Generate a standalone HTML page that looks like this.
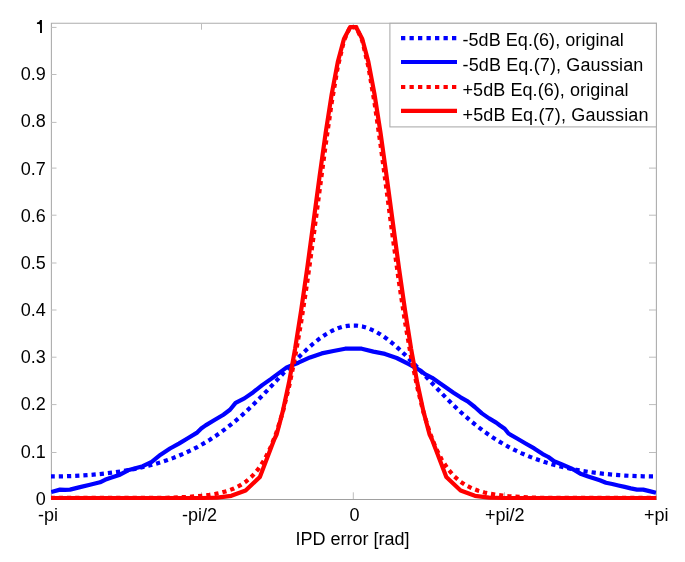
<!DOCTYPE html>
<html><head><meta charset="utf-8"><title>IPD error distribution</title>
<style>html,body{margin:0;padding:0;background:#fff;}svg{display:block;}text{font-family:"Liberation Sans",sans-serif;fill:#000;}.t{filter:grayscale(1);}</style>
</head><body>
<svg width="685" height="562" viewBox="0 0 685 562">
<rect x="0" y="0" width="685" height="562" fill="#fff"/>
<path d="M51.4 499.5 V23.3 H656.4 V499.5" fill="none" stroke="#adadad" stroke-width="1.1"/>
<path d="M51 499.5 H656.9" fill="none" stroke="#a0a0a0" stroke-width="1.1"/>
<line x1="51" y1="452.5" x2="56.5" y2="452.5" stroke="#bdbdbd" stroke-width="1"/>
<line x1="649" y1="452.5" x2="656" y2="452.5" stroke="#bdbdbd" stroke-width="1"/>
<line x1="51" y1="404.6" x2="56.5" y2="404.6" stroke="#bdbdbd" stroke-width="1"/>
<line x1="649" y1="404.6" x2="656" y2="404.6" stroke="#bdbdbd" stroke-width="1"/>
<line x1="51" y1="357.2" x2="56.5" y2="357.2" stroke="#bdbdbd" stroke-width="1"/>
<line x1="649" y1="357.2" x2="656" y2="357.2" stroke="#bdbdbd" stroke-width="1"/>
<line x1="51" y1="310.0" x2="56.5" y2="310.0" stroke="#bdbdbd" stroke-width="1"/>
<line x1="649" y1="310.0" x2="656" y2="310.0" stroke="#bdbdbd" stroke-width="1"/>
<line x1="51" y1="263.0" x2="56.5" y2="263.0" stroke="#bdbdbd" stroke-width="1"/>
<line x1="649" y1="263.0" x2="656" y2="263.0" stroke="#bdbdbd" stroke-width="1"/>
<line x1="51" y1="215.2" x2="56.5" y2="215.2" stroke="#bdbdbd" stroke-width="1"/>
<line x1="649" y1="215.2" x2="656" y2="215.2" stroke="#bdbdbd" stroke-width="1"/>
<line x1="51" y1="168.1" x2="56.5" y2="168.1" stroke="#bdbdbd" stroke-width="1"/>
<line x1="649" y1="168.1" x2="656" y2="168.1" stroke="#bdbdbd" stroke-width="1"/>
<line x1="51" y1="122.4" x2="56.5" y2="122.4" stroke="#bdbdbd" stroke-width="1"/>
<line x1="649" y1="122.4" x2="656" y2="122.4" stroke="#bdbdbd" stroke-width="1"/>
<line x1="51" y1="74.5" x2="56.5" y2="74.5" stroke="#bdbdbd" stroke-width="1"/>
<line x1="649" y1="74.5" x2="656" y2="74.5" stroke="#bdbdbd" stroke-width="1"/>
<line x1="51" y1="27.4" x2="56.5" y2="27.4" stroke="#bdbdbd" stroke-width="1"/>
<line x1="649" y1="27.4" x2="656" y2="27.4" stroke="#bdbdbd" stroke-width="1"/>
<path d="M40.0 20.1 L41.95 20.1 L41.95 32.9 L40.05 32.9 L40.05 24.6 C39.4 23.95 38.3 23.9 36.95 23.9 L36.95 22.45 C38.7 22.35 39.7 21.7 40.0 20.1 Z" fill="#000"/>
<line x1="201.5" y1="499" x2="201.5" y2="492.3" stroke="#bdbdbd" stroke-width="1"/>
<line x1="201.5" y1="23.5" x2="201.5" y2="29.7" stroke="#bdbdbd" stroke-width="1"/>
<line x1="353.3" y1="499" x2="353.3" y2="492.3" stroke="#bdbdbd" stroke-width="1"/>
<line x1="353.3" y1="23.5" x2="353.3" y2="29.7" stroke="#bdbdbd" stroke-width="1"/>
<line x1="504.5" y1="499" x2="504.5" y2="492.3" stroke="#bdbdbd" stroke-width="1"/>
<line x1="504.5" y1="23.5" x2="504.5" y2="29.7" stroke="#bdbdbd" stroke-width="1"/>
<defs><clipPath id="ax"><rect x="51" y="0" width="605.5" height="562"/></clipPath></defs><g clip-path="url(#ax)">
<polyline points="50.60,476.44 56.71,476.40 62.82,476.30 68.93,476.12 75.04,475.87 81.16,475.55 87.27,475.15 93.38,474.66 99.49,474.09 105.60,473.44 111.71,472.69 117.82,471.83 123.93,470.87 130.04,469.79 136.16,468.59 142.27,467.25 148.38,465.76 154.49,464.12 160.60,462.31 166.71,460.31 172.82,458.12 178.93,455.71 185.04,453.08 191.16,450.21 197.27,447.08 203.38,443.67 209.49,439.99 215.60,436.00 221.71,431.71 227.82,427.10 233.93,422.19 240.04,416.97 246.16,411.45 252.27,405.65 258.38,399.60 264.49,393.34 270.60,386.92 276.71,380.39 282.82,373.82 288.93,367.30 295.04,360.91 301.16,354.76 307.27,348.93 313.38,343.54 319.49,338.69 325.60,334.47 331.71,330.98 337.82,328.28 343.93,326.45 350.04,325.53 356.16,325.53 362.27,326.45 368.38,328.28 374.49,330.98 380.60,334.47 386.71,338.69 392.82,343.54 398.93,348.93 405.04,354.76 411.16,360.91 417.27,367.30 423.38,373.82 429.49,380.39 435.60,386.92 441.71,393.34 447.82,399.60 453.93,405.65 460.04,411.45 466.16,416.97 472.27,422.19 478.38,427.10 484.49,431.71 490.60,436.00 496.71,439.99 502.82,443.67 508.93,447.08 515.04,450.21 521.16,453.08 527.27,455.71 533.38,458.12 539.49,460.31 545.60,462.31 551.71,464.12 557.82,465.76 563.93,467.25 570.04,468.59 576.16,469.79 582.27,470.87 588.38,471.83 594.49,472.69 600.60,473.44 606.71,474.09 612.82,474.66 618.93,475.15 625.04,475.55 631.16,475.87 637.27,476.12 643.38,476.30 649.49,476.40 655.60,476.44" fill="none" stroke="#0000ff" stroke-width="4.2" stroke-dasharray="4.2 4" stroke-linejoin="round"/>
<polyline points="51.2,492.0 60.0,489.6 65.0,489.8 70.0,489.6 80.0,487.1 90.0,484.8 100.0,482.3 105.0,479.8 110.0,478.0 120.0,474.7 128.0,470.3 142.8,466.2 151.7,461.8 160.6,454.7 170.0,448.5 178.9,443.6 187.8,438.3 196.7,432.9 201.2,428.5 205.6,425.4 214.5,420.0 223.4,414.7 230.0,409.8 235.6,402.9 244.4,398.4 253.3,392.2 262.2,385.1 271.1,378.9 278.2,373.6 286.7,367.4 298.4,362.7 310.0,357.4 321.7,353.4 333.4,351.0 345.1,348.7 361.7,348.7 373.4,351.6 385.0,353.9 396.7,358.0 408.4,363.9 420.1,370.3 425.0,374.2 432.1,377.8 439.2,382.8 446.4,387.8 453.5,392.7 460.6,397.3 467.7,401.3 474.8,407.0 481.9,413.4 489.1,418.4 496.2,422.6 500.0,425.5 504.7,428.8 508.5,433.5 517.1,438.5 525.6,443.5 534.2,448.4 542.7,454.1 548.4,457.0 554.1,461.2 562.6,464.8 571.2,468.4 575.0,470.4 581.2,474.1 587.4,476.2 593.6,478.2 599.8,480.3 606.0,482.8 612.2,484.0 618.4,485.5 624.6,486.9 630.8,488.4 637.0,489.6 643.2,489.6 649.4,491.1 656.0,492.7" fill="none" stroke="#0000ff" stroke-width="4.2" stroke-linejoin="round"/>
<polyline points="50.60,497.90 56.71,497.90 62.82,497.90 68.93,497.90 75.04,497.90 81.16,497.90 87.27,497.90 93.38,497.90 99.49,497.90 105.60,497.90 111.71,497.90 117.82,497.90 123.93,497.90 130.04,497.90 136.16,497.90 142.27,497.90 148.38,497.90 154.49,497.90 160.60,497.90 166.71,497.76 172.82,497.57 178.93,497.34 185.04,497.05 191.16,496.68 197.27,496.22 203.38,495.62 209.49,494.84 215.60,493.84 221.71,492.52 227.82,490.78 233.93,488.48 240.04,485.43 246.16,481.38 252.27,476.00 258.38,468.90 264.49,459.56 270.60,447.40 276.71,431.76 282.82,411.95 288.93,387.34 295.04,357.47 301.16,322.22 307.27,281.97 313.38,237.75 319.49,191.34 325.60,145.27 331.71,102.62 337.82,66.73 343.93,40.73 350.04,27.06 356.16,27.06 362.27,40.73 368.38,66.73 374.49,102.62 380.60,145.27 386.71,191.34 392.82,237.75 398.93,281.97 405.04,322.22 411.16,357.47 417.27,387.34 423.38,411.95 429.49,431.76 435.60,447.40 441.71,459.56 447.82,468.90 453.93,476.00 460.04,481.38 466.16,485.43 472.27,488.48 478.38,490.78 484.49,492.52 490.60,493.84 496.71,494.84 502.82,495.62 508.93,496.22 515.04,496.68 521.16,497.05 527.27,497.34 533.38,497.57 539.49,497.76 545.60,497.90 551.71,497.90 557.82,497.90 563.93,497.90 570.04,497.90 576.16,497.90 582.27,497.90 588.38,497.90 594.49,497.90 600.60,497.90 606.71,497.90 612.82,497.90 618.93,497.90 625.04,497.90 631.16,497.90 637.27,497.90 643.38,497.90 649.49,497.90 655.60,497.90" fill="none" stroke="#ff0000" stroke-width="4.2" stroke-dasharray="4.2 4" stroke-linejoin="round"/>
<polyline points="49.60,498.00 202.70,498.00 217.00,497.70 231.30,495.80 245.60,490.50 259.90,476.90 274.20,439.50 276.71,434.28 282.82,411.15 288.93,382.75 295.04,349.04 301.16,310.40 307.27,267.78 313.38,222.65 319.49,177.02 325.60,133.28 331.71,94.06 337.82,61.90 343.93,39.05 350.04,27.18 356.16,27.18 362.27,39.05 368.38,61.90 374.49,94.06 380.60,133.28 386.71,177.02 392.82,222.65 398.93,267.78 405.04,310.40 411.16,349.04 417.27,382.75 423.38,411.15 429.49,434.28 432.00,439.50 446.30,476.90 460.60,490.50 474.90,495.80 489.20,497.70 503.50,498.00 656.60,498.00" fill="none" stroke="#ff0000" stroke-width="4.2" stroke-linejoin="round"/>
</g>
<rect x="389.9" y="23.3" width="266.5" height="103.6" fill="#fff" stroke="#adadad" stroke-width="1.1"/>
<line x1="401" y1="38.2" x2="457" y2="38.2" stroke="#0000ff" stroke-width="4.2" stroke-dasharray="4.3 4.2"/>
<line x1="401" y1="62.0" x2="457" y2="62.0" stroke="#0000ff" stroke-width="4.2"/>
<line x1="401" y1="87.0" x2="457" y2="87.0" stroke="#ff0000" stroke-width="4.2" stroke-dasharray="4.3 4.2"/>
<line x1="401" y1="110.9" x2="457" y2="110.9" stroke="#ff0000" stroke-width="4.2"/>
<g class="t">
<text x="45.8" y="504.8" text-anchor="end" font-family="Liberation Sans" font-size="18">0</text>
<text x="45.8" y="457.6" text-anchor="end" font-family="Liberation Sans" font-size="18">0.1</text>
<text x="45.8" y="410.4" text-anchor="end" font-family="Liberation Sans" font-size="18">0.2</text>
<text x="45.8" y="363.2" text-anchor="end" font-family="Liberation Sans" font-size="18">0.3</text>
<text x="45.8" y="316.1" text-anchor="end" font-family="Liberation Sans" font-size="18">0.4</text>
<text x="45.8" y="268.9" text-anchor="end" font-family="Liberation Sans" font-size="18">0.5</text>
<text x="45.8" y="221.7" text-anchor="end" font-family="Liberation Sans" font-size="18">0.6</text>
<text x="45.8" y="174.5" text-anchor="end" font-family="Liberation Sans" font-size="18">0.7</text>
<text x="45.8" y="127.4" text-anchor="end" font-family="Liberation Sans" font-size="18">0.8</text>
<text x="45.8" y="80.2" text-anchor="end" font-family="Liberation Sans" font-size="18">0.9</text>
<text x="48.0" y="521" text-anchor="middle" font-family="Liberation Sans" font-size="18">-pi</text>
<text x="199.4" y="521" text-anchor="middle" font-family="Liberation Sans" font-size="18">-pi/2</text>
<text x="354.4" y="521" text-anchor="middle" font-family="Liberation Sans" font-size="18">0</text>
<text x="504.8" y="521" text-anchor="middle" font-family="Liberation Sans" font-size="18">+pi/2</text>
<text x="656.2" y="521" text-anchor="middle" font-family="Liberation Sans" font-size="18">+pi</text>
<text x="352.4" y="544.5" text-anchor="middle" font-family="Liberation Sans" font-size="18">IPD error [rad]</text>
<text x="462.5" y="46.1" textLength="161.2" lengthAdjust="spacing" font-family="Liberation Sans" font-size="18">-5dB Eq.(6), original</text>
<text x="462.5" y="71.0" textLength="180.8" lengthAdjust="spacing" font-family="Liberation Sans" font-size="18">-5dB Eq.(7), Gaussian</text>
<text x="462.5" y="95.9" textLength="166.0" lengthAdjust="spacing" font-family="Liberation Sans" font-size="18">+5dB Eq.(6), original</text>
<text x="462.5" y="121.0" textLength="186.0" lengthAdjust="spacing" font-family="Liberation Sans" font-size="18">+5dB Eq.(7), Gaussian</text>
</g>
</svg>
</body></html>
